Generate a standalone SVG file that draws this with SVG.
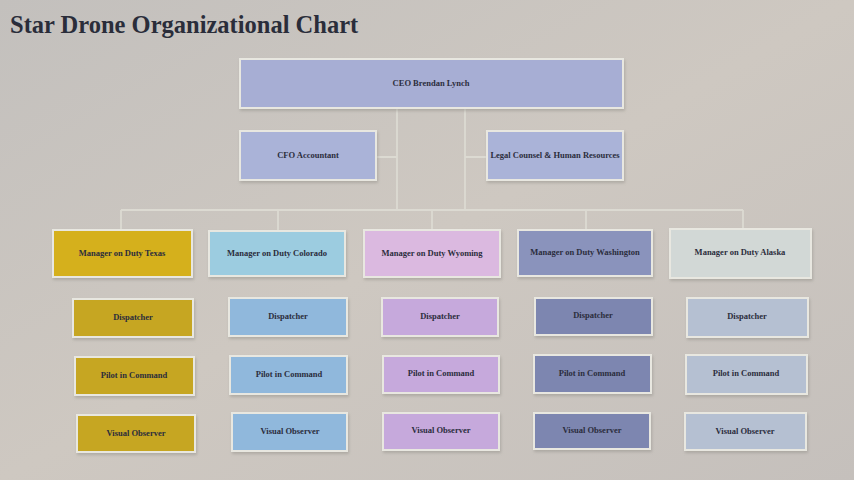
<svg xmlns="http://www.w3.org/2000/svg" width="854" height="480" viewBox="0 0 854 480">
<defs>
<linearGradient id="bg" x1="0" y1="0" x2="1" y2="1">
<stop offset="0" stop-color="#c3c0bd"/>
<stop offset="0.5" stop-color="#cec8c1"/>
<stop offset="1" stop-color="#c5c0bc"/>
</linearGradient>
<filter id="sh" x="-10%" y="-10%" width="130%" height="140%">
<feDropShadow dx="1" dy="2" stdDeviation="1.5" flood-color="#8a8680" flood-opacity="0.45"/>
</filter>
</defs>
<style>
.box{stroke:#e8e7e0;stroke-width:2;filter:url(#sh)}
.t{font-family:"Liberation Serif","Times New Roman",serif;font-weight:bold;font-size:8.5px;fill:#2b2d3c;text-anchor:middle;dominant-baseline:central}
.title{font-family:"Liberation Serif","Times New Roman",serif;font-weight:bold;font-size:24.5px;fill:#2a2d3a}
.ln{stroke:#dcdad2;stroke-width:1.8;fill:none}
.ceo{fill:#a7aed4}.mid{fill:#aab3d8}
.tx{fill:#d5b01c}.txs{fill:#c6a624}
.co{fill:#9ccce0}.cos{fill:#90b8dc}
.wy{fill:#dbb9e0}.wys{fill:#c6a9dc}
.wa{fill:#8a93bc}.was{fill:#7d86b0}
.ak{fill:#d2d8d6}.aks{fill:#b5c0d2}
</style>
<rect width="854" height="480" fill="url(#bg)"/>
<text class="title" x="10" y="33">Star Drone Organizational Chart</text>

<g id="connectors">
<path class="ln" d="M397 108V210M465 108V210M377 157H397M465 157H488"/>
<path class="ln" d="M121 210H743M121 210V230M278 210V231M432 210V230M586 210V230M743 210V229"/>
</g>

<g id="ceo"><rect class="box ceo" x="240" y="59" width="383" height="49"/><text class="t" x="431" y="83">CEO Brendan Lynch</text></g>
<g id="cfo"><rect class="box mid" x="240" y="131" width="136" height="49"/><text class="t" x="308" y="155">CFO Accountant</text></g>
<g id="legal"><rect class="box mid" x="487" y="131" width="136" height="49"/><text class="t" x="555" y="155">Legal Counsel &amp; Human Resources</text></g>

<g id="mgr-texas"><rect class="box tx" x="53" y="230" width="139" height="47"/><text class="t" x="122" y="253">Manager on Duty Texas</text></g>
<g id="mgr-colorado"><rect class="box co" x="209" y="231" width="136" height="45"/><text class="t" x="277" y="253">Manager on Duty Colorado</text></g>
<g id="mgr-wyoming"><rect class="box wy" x="364" y="230" width="136" height="47"/><text class="t" x="432" y="253">Manager on Duty Wyoming</text></g>
<g id="mgr-washington"><rect class="box wa" x="518" y="230" width="134" height="46"/><text class="t" x="585" y="252">Manager on Duty Washington</text></g>
<g id="mgr-alaska"><rect class="box ak" x="670" y="229" width="141" height="49"/><text class="t" x="740" y="252">Manager on Duty Alaska</text></g>

<g id="tx-disp"><rect class="box txs" x="73" y="299" width="120" height="38"/><text class="t" x="133" y="317">Dispatcher</text></g>
<g id="tx-pilot"><rect class="box txs" x="75" y="357" width="119" height="38"/><text class="t" x="134" y="375">Pilot in Command</text></g>
<g id="tx-vo"><rect class="box txs" x="77" y="415" width="118" height="37"/><text class="t" x="136" y="433">Visual Observer</text></g>

<g id="co-disp"><rect class="box cos" x="229" y="298" width="118" height="38"/><text class="t" x="288" y="316">Dispatcher</text></g>
<g id="co-pilot"><rect class="box cos" x="230" y="356" width="117" height="38"/><text class="t" x="289" y="374">Pilot in Command</text></g>
<g id="co-vo"><rect class="box cos" x="232" y="413" width="115" height="38"/><text class="t" x="290" y="431">Visual Observer</text></g>

<g id="wy-disp"><rect class="box wys" x="382" y="298" width="116" height="38"/><text class="t" x="440" y="316">Dispatcher</text></g>
<g id="wy-pilot"><rect class="box wys" x="383" y="356" width="116" height="37"/><text class="t" x="441" y="373">Pilot in Command</text></g>
<g id="wy-vo"><rect class="box wys" x="383" y="413" width="116" height="37"/><text class="t" x="441" y="430">Visual Observer</text></g>

<g id="wa-disp"><rect class="box was" x="535" y="298" width="117" height="37"/><text class="t" x="593" y="315">Dispatcher</text></g>
<g id="wa-pilot"><rect class="box was" x="534" y="355" width="117" height="38"/><text class="t" x="592" y="373">Pilot in Command</text></g>
<g id="wa-vo"><rect class="box was" x="534" y="413" width="116" height="36"/><text class="t" x="592" y="430">Visual Observer</text></g>

<g id="ak-disp"><rect class="box aks" x="687" y="298" width="121" height="39"/><text class="t" x="747" y="316">Dispatcher</text></g>
<g id="ak-pilot"><rect class="box aks" x="686" y="355" width="121" height="39"/><text class="t" x="746" y="373">Pilot in Command</text></g>
<g id="ak-vo"><rect class="box aks" x="685" y="413" width="121" height="37"/><text class="t" x="745" y="431">Visual Observer</text></g>
</svg>
